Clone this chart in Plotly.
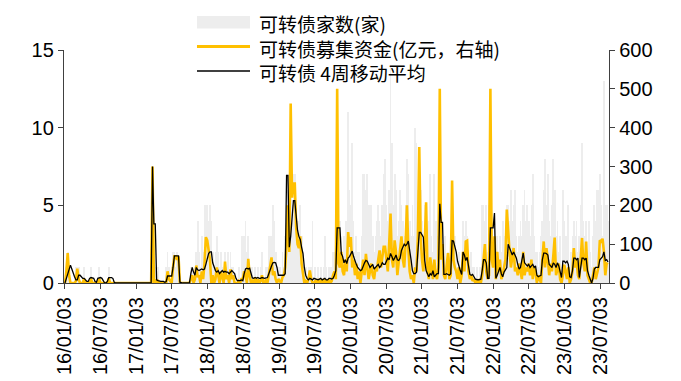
import pandas as pd
import plotly.graph_objects as go

START_DATE = "2016-01-03"  # weekly observations

# 可转债家数(家) - weekly count (left axis)
counts = [
    0, 1, 2, 1, 0, 0, 0, 0, 1, 1, 1, 0, 0, 0, 1, 0, 0, 0, 0, 1, 0, 0, 0, 0, 0, 1,
    0, 0, 0, 0, 0, 0, 1, 0, 0, 0, 0, 0, 0, 0, 0, 0, 0, 0, 0, 0, 0, 0, 0, 0, 0, 0,
    0, 0, 0, 0, 0, 0, 0, 0, 0, 0, 0, 0, 1, 0, 1, 0, 1, 0, 0, 0, 0, 0, 1, 2, 1, 0,
    1, 2, 2, 1, 2, 1, 0, 0, 0, 0, 0, 0, 0, 0, 1, 1, 0, 1, 2, 4, 2, 1, 3, 2, 5, 5,
    5, 4, 5, 4, 2, 1, 2, 3, 2, 1, 2, 1, 0, 2, 1, 2, 0, 2, 1, 1, 0, 0, 0, 1, 0, 3,
    3, 3, 4, 2, 3, 1, 0, 1, 0, 1, 0, 1, 0, 1, 2, 0, 0, 1, 1, 3, 3, 3, 5, 4, 2, 1,
    1, 1, 0, 2, 1, 3, 5, 6, 4, 7, 5, 7, 7, 5, 4, 4, 5, 3, 2, 1, 1, 0, 1, 1, 1, 4,
    0, 1, 0, 1, 0, 1, 0, 1, 3, 1, 0, 1, 1, 1, 2, 2, 3, 4, 3, 4, 3, 2, 3, 4, 4, 11,
    6, 5, 9, 4, 2, 3, 2, 2, 1, 3, 7, 7, 6, 7, 5, 4, 5, 3, 2, 3, 4, 5, 4, 3, 5, 7,
    8, 5, 4, 6, 14, 9, 5, 7, 6, 3, 4, 6, 5, 4, 3, 5, 8, 7, 4, 3, 5, 3, 10, 9, 6, 7,
    6, 4, 3, 5, 2, 3, 4, 7, 3, 2, 7, 4, 3, 5, 4, 5, 3, 2, 3, 1, 2, 1, 2, 4, 3, 3,
    2, 1, 2, 1, 1, 4, 3, 4, 3, 2, 1, 2, 1, 1, 0, 1, 0, 1, 1, 5, 5, 4, 5, 2, 5, 4,
    3, 2, 4, 1, 3, 2, 3, 2, 4, 3, 4, 5, 5, 4, 6, 4, 5, 6, 3, 2, 3, 4, 3, 5, 6, 4,
    5, 4, 3, 5, 7, 3, 2, 2, 1, 2, 3, 4, 6, 8, 5, 7, 4, 3, 5, 8, 6, 3, 4, 2, 3, 1,
    6, 4, 3, 2, 5, 1, 2, 3, 4, 3, 4, 2, 3, 5, 9, 4, 3, 4, 2, 4, 2, 1, 3, 5, 4, 6,
    6, 7, 5, 3, 13, 5, 5, 4,
]

# 可转债募集资金(亿元) - weekly amount (right axis)
amounts = [
    0, 30, 77, 20, 0, 0, 0, 0, 5, 37, 10, 0, 0, 0, 11, 0, 0, 0, 0, 11, 0, 0, 0, 0, 0, 11,
    0, 0, 0, 0, 0, 0, 12, 0, 0, 0, 0, 0, 0, 0, 0, 0, 0, 0, 0, 0, 0, 0, 0, 0, 0, 0,
    0, 0, 0, 0, 0, 0, 0, 0, 0, 0, 0, 0, 300, 0, 8, 0, 5, 0, 0, 0, 0, 0, 0, 30, 10, 5,
    0, 40, 69, 69, 60, 69, 0, 0, 0, 0, 0, 0, 0, 0, 10, 20, 0, 10, 45, 15, 20, 0, 30, 10, 50, 118,
    110, 90, 60, 0, 20, 0, 10, 40, 20, 0, 30, 10, 0, 55, 10, 20, 0, 35, 10, 20, 0, 0, 0, 5, 0, 10,
    10, 30, 20, 0, 62, 20, 0, 5, 0, 15, 0, 10, 0, 5, 20, 0, 0, 10, 0, 20, 40, 66, 20, 30, 10, 0,
    10, 5, 0, 15, 20, 40, 100, 200, 80, 462, 220, 256, 256, 144, 100, 90, 120, 50, 20, 0, 5, 0, 10, 32, 10, 0,
    0, 5, 0, 10, 0, 5, 0, 10, 0, 5, 0, 10, 0, 5, 20, 30, 10, 500, 50, 40, 80, 30, 20, 60, 30, 131,
    93, 118, 40, 60, 20, 50, 10, 30, 0, 40, 60, 20, 75, 40, 10, 30, 50, 20, 10, 40, 30, 60, 84, 40, 70, 93,
    93, 60, 30, 100, 179, 60, 40, 110, 80, 20, 50, 90, 120, 60, 40, 100, 200, 90, 30, 10, 20, 0, 40, 30, 120, 350,
    120, 60, 30, 100, 208, 30, 10, 66, 40, 10, 60, 20, 10, 40, 500, 60, 100, 20, 10, 40, 77, 10, 20, 264, 60, 40,
    30, 10, 40, 0, 20, 80, 30, 107, 109, 30, 10, 20, 5, 10, 0, 5, 0, 10, 0, 20, 73, 100, 30, 10, 20, 500,
    60, 40, 120, 10, 80, 30, 60, 10, 20, 40, 60, 189, 120, 80, 40, 60, 90, 30, 40, 20, 50, 30, 10, 80, 20, 40,
    30, 50, 20, 60, 10, 40, 30, 0, 20, 10, 0, 60, 107, 40, 90, 60, 20, 50, 30, 70, 117, 20, 40, 50, 10, 0,
    20, 47, 30, 10, 40, 0, 10, 30, 90, 40, 60, 20, 10, 60, 116, 50, 30, 107, 20, 10, 0, 0, 20, 40, 10, 30,
    40, 110, 107, 114, 80, 20, 50, 48,
]

# 可转债 4周移动平均 (plotted against the right axis scale)
ma4 = [
    0, 12, 24, 36, 46, 36, 24, 16, 8, 8, 20, 20, 16, 12, 12, 8, 4, 4, 12, 14, 12, 12, 4, 2, 12, 14,
    14, 12, 4, 0, 0, 4, 14, 14, 14, 12, 2, 0, 0, 0, 0, 0, 0, 0, 0, 0, 0, 0, 0, 0, 0, 0,
    0, 0, 0, 0, 0, 0, 0, 0, 0, 0, 0, 0, 300, 152, 152, 8, 6, 4, 4, 4, 4, 2, 4, 18, 18, 18,
    18, 40, 70, 70, 70, 70, 2, 0, 0, 0, 0, 0, 0, 0, 24, 40, 28, 20, 40, 34, 32, 34, 36, 34, 36, 48,
    64, 76, 80, 80, 52, 40, 32, 28, 32, 24, 28, 32, 28, 30, 28, 28, 24, 28, 32, 28, 24, 12, 6, 6, 6, 8,
    6, 24, 36, 38, 36, 38, 24, 13, 12, 14, 12, 14, 12, 12, 14, 12, 12, 13, 14, 24, 36, 44, 52, 53, 52, 40,
    20, 20, 20, 20, 20, 24, 277, 277, 92, 120, 180, 212, 212, 160, 136, 120, 112, 92, 76, 40, 20, 12, 8, 12, 10, 8,
    12, 10, 8, 8, 10, 12, 8, 10, 12, 8, 8, 12, 12, 10, 12, 20, 32, 142, 142, 142, 76, 68, 52, 60, 50, 64,
    68, 76, 82, 68, 56, 48, 40, 36, 32, 34, 44, 52, 58, 56, 48, 40, 44, 48, 36, 40, 44, 48, 40, 44, 52, 48,
    48, 56, 64, 60, 76, 68, 58, 64, 72, 60, 58, 64, 84, 92, 100, 96, 100, 108, 88, 60, 32, 24, 24, 28, 80, 130,
    130, 124, 118, 58, 32, 24, 16, 24, 20, 32, 16, 20, 24, 24, 204, 156, 156, 22, 22, 24, 22, 20, 24, 109, 108, 96,
    80, 56, 40, 32, 22, 80, 72, 58, 66, 48, 22, 20, 22, 16, 10, 9, 8, 9, 10, 32, 60, 60, 52, 12, 12, 142,
    142, 142, 180, 12, 20, 32, 40, 24, 16, 28, 36, 40, 100, 92, 84, 72, 80, 72, 64, 48, 36, 40, 56, 77, 52, 48,
    44, 48, 40, 44, 48, 40, 44, 20, 16, 18, 20, 60, 77, 77, 76, 72, 48, 44, 40, 52, 48, 40, 52, 44, 24, 14,
    56, 56, 52, 56, 48, 16, 14, 32, 64, 64, 60, 64, 14, 40, 64, 64, 60, 64, 32, 20, 12, 0, 12, 36, 40, 40,
    40, 60, 64, 68, 80, 58, 60, 54,
]

tick_dates = [
    "2016-01-03", "2016-07-03", "2017-01-03", "2017-07-03", "2018-01-03", "2018-07-03",
    "2019-01-03", "2019-07-03", "2020-01-03", "2020-07-03", "2021-01-03", "2021-07-03",
    "2022-01-03", "2022-07-03", "2023-01-03", "2023-07-03",
]
tick_labels = [
    "16/01/03", "16/07/03", "17/01/03", "17/07/03", "18/01/03", "18/07/03",
    "19/01/03", "19/07/03", "20/01/03", "20/07/03", "21/01/03", "21/07/03",
    "22/01/03", "22/07/03", "23/01/03", "23/07/03",
]

series_names = ["可转债家数(家)", "可转债募集资金(亿元，右轴)", "可转债 4周移动平均"]

assert len(counts) == len(amounts) == len(ma4), (len(counts), len(amounts), len(ma4))
dates = pd.date_range(START_DATE, periods=len(counts), freq="7D")

FONT = "Liberation Sans, Arial, Noto Sans CJK SC"
CJK_FONT = "Noto Sans CJK SC, Liberation Sans"
AXIS_COLOR = "#404040"
BAR_COLOR = "#EDEDED"
GOLD = "#FFC000"

fig = go.Figure()
fig.add_trace(go.Bar(
    x=dates, y=counts, name=series_names[0], marker=dict(color=BAR_COLOR, line=dict(width=0)),
    width=4 * 86400000, yaxis="y",
))
fig.add_trace(go.Scatter(
    x=dates, y=amounts, mode="lines", name=series_names[1],
    line=dict(color=GOLD, width=2.6), yaxis="y2",
))
fig.add_trace(go.Scatter(
    x=dates, y=ma4, mode="lines", name=series_names[2],
    line=dict(color="#000000", width=1.3), yaxis="y2",
))

axis_common = dict(
    showline=True, linecolor=AXIS_COLOR, linewidth=1.3, ticks="outside",
    ticklen=5, tickwidth=1.3, tickcolor=AXIS_COLOR, showgrid=False, zeroline=False,
    automargin=False,
    tickfont=dict(family=FONT, size=20, color="#000000"),
)

# legend drawn as swatches + a three-line text block above the plot area (paper coordinates)
sw_x0, sw_x1 = 0.244, 0.3413
shapes = [
    dict(type="rect", xref="paper", yref="paper", x0=sw_x0, x1=sw_x1, y0=1.0923, y1=1.1459,
         fillcolor=BAR_COLOR, line=dict(width=0)),
    dict(type="line", xref="paper", yref="paper", x0=sw_x0, x1=sw_x1, y0=1.015, y1=1.015,
         line=dict(color=GOLD, width=3)),
    dict(type="line", xref="paper", yref="paper", x0=sw_x0, x1=sw_x1, y0=0.9099, y1=0.9099,
         line=dict(color="#000000", width=1.3)),
]
annotations = [
    dict(text="<br>".join(series_names), xref="paper", yref="paper", x=0.356, y=1.178,
         xanchor="left", yanchor="top", align="left", showarrow=False, borderpad=0,
         font=dict(family=CJK_FONT, size=19, color="#000000"))
]

# page body adds an 8px offset, so the figure is 8px smaller than the window
fig.update_layout(
    width=673, height=373,
    margin=dict(l=56, r=72, t=42, b=98, autoexpand=False),
    paper_bgcolor="white", plot_bgcolor="white",
    bargap=0,
    showlegend=False,
    shapes=shapes,
    annotations=annotations,
    xaxis=dict(
        type="date", range=["2015-12-29", "2023-08-18"],
        tickvals=tick_dates, ticktext=tick_labels, tickangle=-90,
        **axis_common,
    ),
    yaxis=dict(range=[0, 15], tickvals=[0, 5, 10, 15], **axis_common),
    yaxis2=dict(range=[0, 600], tickvals=[0, 100, 200, 300, 400, 500, 600],
                overlaying="y", side="right", **axis_common),
)

fig.write_html("out.html")
